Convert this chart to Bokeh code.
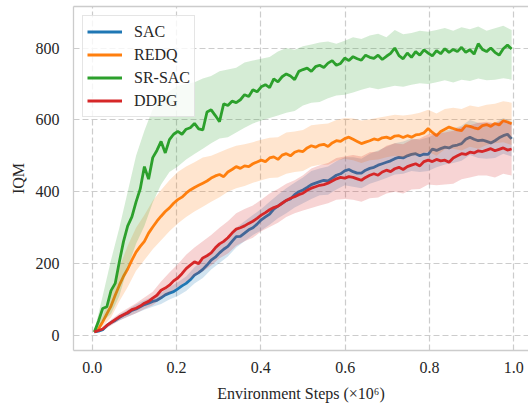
import numpy as np
from bokeh.plotting import figure
from bokeh.models import (Range1d, FixedTicker, NumeralTickFormatter, LinearAxis,
                          Legend, LegendItem)
from bokeh.embed import file_html
from bokeh.resources import INLINE

# ---------------- data ----------------
steps = np.round(np.linspace(0.005, 0.995, 101), 4)   # environment steps (x 1e6)
band_steps = steps[::2]

series_names = ["SAC", "REDQ", "SR-SAC", "DDPG"]
series_colors = ["#1f77b4", "#ff7f0e", "#2ca02c", "#d62728"]

sac = [10, 12, 16, 28, 36, 42, 50, 57, 62, 70,
       74, 80, 86, 90, 95, 98, 105, 113, 118, 122,
       130, 138, 145, 155, 168, 175, 184, 196, 210, 218,
       230, 240, 248, 262, 275, 276, 285, 294, 300, 310,
       322, 330, 338, 352, 360, 368, 376, 380, 392, 400,
       405, 412, 420, 424, 428, 432, 430, 438, 446, 450,
       458, 462, 456, 452, 452, 460, 465, 468, 474, 478,
       482, 486, 492, 496, 494, 500, 504, 506, 500, 505,
       504, 519, 515, 520, 524, 522, 528, 530, 534, 546,
       552, 546, 542, 544, 540, 536, 542, 550, 556, 560, 547]

redq = [10, 18, 38, 60, 82, 112, 140, 165, 185, 210,
        232, 248, 262, 285, 302, 318, 332, 345, 355, 368,
        378, 385, 396, 405, 412, 418, 424, 430, 438, 444,
        448, 442, 455, 462, 470, 465, 472, 470, 478, 483,
        488, 484, 494, 497, 490, 502, 506, 500, 510, 514,
        512, 522, 528, 524, 530, 532, 526, 536, 542, 540,
        548, 552, 546, 540, 534, 538, 542, 547, 544, 550,
        552, 548, 555, 556, 551, 556, 552, 558, 560, 564,
        576, 565, 556, 568, 574, 580, 576, 572, 570, 584,
        582, 578, 575, 584, 587, 582, 590, 586, 598, 594, 589]

srsac = [10, 40, 75, 80, 125, 145, 205, 262, 305, 330,
         372, 408, 470, 435, 495, 515, 540, 508, 545, 560,
         568, 560, 574, 578, 590, 575, 572, 622, 628, 612,
         595, 645, 640, 652, 648, 656, 670, 665, 684, 678,
         692, 698, 690, 714, 706, 720, 728, 722, 712, 735,
         740, 744, 735, 748, 752, 746, 758, 765, 752, 757,
         772, 765, 776, 770, 766, 780, 774, 771, 780, 768,
         777, 785, 800, 779, 770, 786, 774, 790, 780, 795,
         786, 778, 793, 784, 798, 788, 796, 790, 802, 788,
         795, 783, 812, 796, 790, 800, 788, 780, 798, 808, 797]

ddpg = [10, 14, 18, 28, 36, 44, 52, 58, 64, 72,
        76, 82, 90, 95, 104, 112, 126, 132, 140, 152,
        160, 172, 186, 196, 205, 200, 216, 222, 230, 244,
        255, 262, 272, 285, 296, 300, 305, 312, 318, 326,
        335, 342, 350, 356, 360, 368, 376, 382, 386, 392,
        396, 404, 410, 414, 418, 420, 424, 430, 436, 440,
        438, 442, 440, 436, 432, 440, 446, 450, 446, 455,
        460, 456, 464, 468, 462, 470, 474, 478, 472, 484,
        488, 484, 490, 486, 488, 482, 494, 500, 506, 504,
        510, 508, 514, 512, 516, 520, 514, 518, 522, 516, 519]

# confidence bands (on every second step)
sac_hi = [11, 20, 42, 58, 72, 86, 98, 108, 120, 134, 148, 164, 190, 208, 234, 254, 272,
          300, 318, 335, 352, 372, 392, 410, 425, 440, 458, 465, 470, 485, 496, 496, 492,
          506, 515, 525, 535, 540, 548, 545, 552, 562, 570, 576, 584, 600, 592, 590, 592,
          605, 596]
sac_lo = [9, 12, 30, 42, 52, 62, 72, 80, 88, 100, 110, 124, 145, 160, 184, 202, 220,
          245, 262, 280, 292, 308, 326, 340, 356, 368, 380, 390, 392, 406, 418, 414, 410,
          422, 430, 438, 448, 450, 458, 455, 458, 468, 476, 480, 486, 502, 494, 492, 494,
          506, 498]
redq_hi = [12, 55, 115, 190, 250, 300, 335, 375, 405, 432, 455, 470, 482, 495, 500, 510,
           520, 528, 532, 538, 545, 550, 552, 565, 568, 572, 585, 588, 590, 600, 605, 604,
           598, 602, 606, 610, 614, 612, 615, 620, 628, 618, 630, 634, 630, 640, 636, 642,
           645, 652, 648]
redq_lo = [8, 25, 50, 95, 135, 180, 210, 240, 265, 290, 312, 330, 345, 358, 372, 385,
           400, 410, 416, 425, 432, 438, 440, 450, 455, 458, 470, 475, 475, 486, 492, 488,
           480, 488, 490, 496, 500, 496, 500, 505, 512, 500, 518, 520, 515, 525, 520, 530,
           535, 538, 530]
srsac_hi = [12, 110, 210, 300, 400, 500, 570, 630, 665, 680, 695, 700, 705, 715, 722,
            735, 740, 745, 760, 765, 770, 775, 790, 800, 795, 805, 810, 815, 818, 812, 820,
            830, 825, 835, 840, 830, 850, 838, 842, 848, 845, 850, 856, 848, 858, 852, 860,
            848, 855, 862, 850]
srsac_lo = [8, 40, 60, 110, 190, 255, 305, 370, 420, 455, 470, 490, 505, 520, 535, 548,
            552, 565, 578, 590, 598, 605, 612, 620, 625, 640, 648, 650, 660, 668, 670, 676,
            684, 690, 685, 690, 695, 692, 698, 702, 700, 705, 710, 704, 712, 708, 715, 710,
            712, 716, 712]
ddpg_hi = [11, 22, 44, 62, 76, 90, 106, 122, 150, 175, 198, 225, 245, 262, 280, 300, 318,
           340, 352, 362, 378, 395, 408, 422, 432, 446, 465, 474, 480, 494, 498, 502, 498,
           510, 512, 528, 535, 532, 545, 548, 560, 562, 565, 570, 580, 585, 592, 595, 590,
           600, 592]
ddpg_lo = [9, 14, 28, 42, 52, 62, 74, 84, 102, 118, 135, 150, 165, 178, 195, 215, 228,
           250, 262, 272, 290, 302, 314, 330, 340, 348, 355, 362, 368, 378, 380, 378, 372,
           382, 384, 395, 400, 395, 406, 408, 420, 418, 420, 422, 435, 440, 445, 445, 440,
           450, 445]

x_ticks = [0.0, 0.2, 0.4, 0.6, 0.8, 1.0]
y_ticks = [0, 200, 400, 600, 800]

means = [sac, redq, srsac, ddpg]
his = [sac_hi, redq_hi, srsac_hi, ddpg_hi]
los = [sac_lo, redq_lo, srsac_lo, ddpg_lo]

# ---------------- figure ----------------
FONT = "Liberation Serif"
GRID = "#cccccc"
TXT = "#262626"

p = figure(width=528, height=406, output_backend="svg", toolbar_location=None,
           x_range=Range1d(-0.0444, 1.035), y_range=Range1d(-41.7, 915.5),
           min_border_left=73, min_border_right=0, min_border_top=6, min_border_bottom=56)
p.outline_line_color = None
p.background_fill_color = "white"
p.border_fill_color = "white"

renderers = []
for name, col, m, hi, lo in zip(series_names, series_colors, means, his, los):
    p.varea(x=band_steps, y1=lo, y2=hi, fill_color=col, fill_alpha=0.2)
    r = p.line(x=steps, y=m, line_color=col, line_width=2.8)
    renderers.append(r)

# axes
for ax in (p.xaxis[0], p.yaxis[0]):
    ax.axis_line_color = GRID
    ax.axis_line_width = 1.3
    ax.major_tick_line_color = None
    ax.minor_tick_line_color = None
    ax.major_tick_out = 0
    ax.minor_tick_out = 0
    ax.major_label_text_font = FONT
    ax.major_label_text_font_size = "16px"
    ax.major_label_text_color = TXT
    ax.axis_label_text_font = FONT
    ax.axis_label_text_font_size = "16px"
    ax.axis_label_text_font_style = "normal"
    ax.axis_label_text_color = TXT

p.xaxis.ticker = FixedTicker(ticks=x_ticks)
p.xaxis.formatter = NumeralTickFormatter(format="0.0")
p.xaxis.major_label_standoff = 11
p.xaxis.axis_label = "Environment Steps (×10⁶)"
p.xaxis.axis_label_standoff = 9

p.yaxis.ticker = FixedTicker(ticks=y_ticks)
p.yaxis.major_label_standoff = 14
p.yaxis.axis_label = "IQM"
p.yaxis.axis_label_standoff = 6

top = LinearAxis(ticker=FixedTicker(ticks=[]), axis_line_color=GRID, axis_line_width=1.3,
                 major_tick_line_color=None, minor_tick_line_color=None,
                 major_tick_out=0, minor_tick_out=0, major_label_standoff=0,
                 major_label_text_font_size="0px")
p.add_layout(top, "above")

# grid
p.xgrid.ticker = FixedTicker(ticks=x_ticks)
p.ygrid.ticker = FixedTicker(ticks=y_ticks)
for g in (p.xgrid[0], p.ygrid[0]):
    g.grid_line_color = GRID
    g.grid_line_width = 1.2
    g.grid_line_dash = "6 3"

# legend
legend = Legend(items=[LegendItem(label=n, renderers=[r]) for n, r in zip(series_names, renderers)],
                location="top_left", margin=9, padding=4, spacing=0,
                glyph_width=35, glyph_height=23, label_height=23, label_standoff=12,
                label_text_font=FONT, label_text_font_size="16px", label_text_color=TXT,
                border_line_color=GRID, border_line_width=1.3,
                background_fill_color="white", background_fill_alpha=0.8)
p.add_layout(legend)

open("out.html", "w").write(file_html(p, INLINE))
